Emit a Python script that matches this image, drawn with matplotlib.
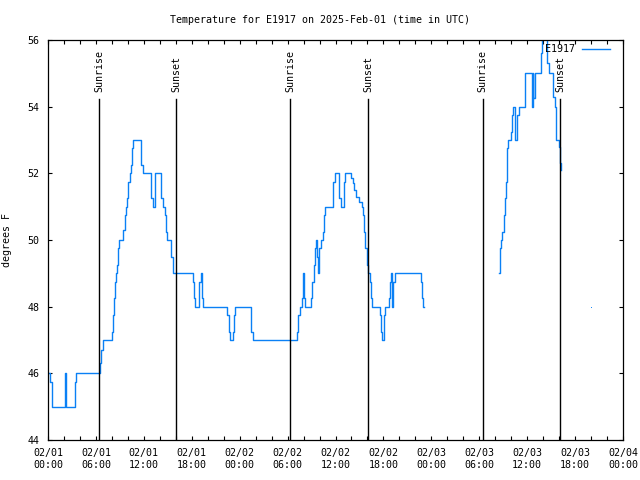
import matplotlib
matplotlib.use("Agg")
import matplotlib.pyplot as plt

# hours since 2025-02-01 00:00 UTC, temperature (F) holds until next change
seg1_t = [0.0, 0.25, 0.5, 2.09, 2.3, 3.34, 3.55, 6.51, 6.68, 6.84, 7.97, 8.14, 8.26, 8.35, 8.55,
          8.68, 8.8, 8.93, 9.43, 9.6, 9.72, 9.93, 10.06, 10.23, 10.43, 10.56, 10.68, 11.69, 11.94,
          12.94, 13.19, 13.44, 14.19, 14.44, 14.65, 14.82, 14.94, 15.44, 15.69,
          18.2, 18.32, 18.45, 18.95, 19.16, 19.24, 19.37, 22.45, 22.62, 22.75, 23.2, 23.33, 23.45,
          25.46, 25.71, 31.22, 31.35, 31.55, 31.76, 31.89, 32.06, 32.18, 32.93, 33.1, 33.26, 33.43,
          33.52, 33.68, 33.81, 33.98, 34.19, 34.39, 34.52, 34.69, 35.73, 35.94, 36.48, 36.65, 37.03,
          37.19, 37.94, 38.15, 38.35, 38.6, 38.9, 39.28, 39.49, 39.6, 39.73, 39.9, 40.07, 40.32,
          40.44, 40.53, 41.57, 41.7, 41.82, 42.03, 42.2, 42.74, 42.87, 42.95, 43.03, 43.2, 43.45,
          46.71, 46.83, 47.0, 47.12]
seg1_v = [46, 45.75, 45, 46, 45, 45.75, 46, 46.3, 46.7, 47, 47.25, 47.75, 48.25, 48.75, 49,
          49.25, 49.75, 50, 50.3, 50.75, 51, 51.25, 51.75, 52, 52.25, 52.75, 53, 52.25, 52,
          51.25, 51, 52, 51.25, 51, 50.75, 50.25, 50, 49.5, 49,
          48.75, 48.25, 48, 48.75, 49, 48.25, 48, 47.75, 47.25, 47, 47.25, 47.75, 48,
          47.25, 47, 47.25, 47.75, 48, 48.25, 49, 48.25, 48, 48.25, 48.75, 49.25, 49.75,
          50, 49.5, 49, 49.75, 50, 50.25, 50.75, 51, 51.75, 52, 51.25, 51, 51.75,
          52, 51.85, 51.7, 51.5, 51.3, 51.15, 51, 50.75, 50.25, 49.75, 49.25, 49, 48.75,
          48.25, 48, 47.75, 47.25, 47, 47.75, 48, 48.25, 48.75, 49, 48, 48.75, 49,
          48.75, 48.25, 48, 48]

seg2_t = [56.47, 56.6, 56.72, 56.89, 57.06, 57.18, 57.31, 57.43, 57.51, 57.64, 57.98, 58.1, 58.23,
          58.52, 58.69, 59.02, 59.73, 60.57, 60.69, 60.77, 60.94, 61.73, 61.9, 62.52, 62.77, 63.27,
          63.48, 63.65, 64.02, 64.15, 64.25]
seg2_v = [49, 49.75, 50, 50.25, 50.75, 51.25, 51.75, 52.25, 52.75, 53, 53.25, 53.75, 54,
          53, 53.75, 54, 55, 54, 55, 54.25, 55, 55.6, 56.5, 55.3, 55, 54.3,
          54, 53, 52.8, 52.3, 52.1]

lone_t = [68.0]
lone_v = [48]

sunrise = [6.42, 30.34, 54.43]
sunset = [16.07, 40.1, 64.15]

tick_hours = list(range(0, 73, 6))
tick_labels = ["02/01\n00:00", "02/01\n06:00", "02/01\n12:00", "02/01\n18:00",
               "02/02\n00:00", "02/02\n06:00", "02/02\n12:00", "02/02\n18:00",
               "02/03\n00:00", "02/03\n06:00", "02/03\n12:00", "02/03\n18:00",
               "02/04\n00:00"]

blue = "#0a80f5"
plt.rcParams["font.family"] = "DejaVu Sans Mono"
plt.rcParams["font.size"] = 7.2

fig = plt.figure(figsize=(6.4, 4.8), dpi=100)
ax = fig.add_axes([48 / 640, 40 / 480, 575 / 640, 400 / 480])

ax.plot(seg1_t, seg1_v, drawstyle="steps-post", color=blue, lw=1.0)
ax.plot(seg2_t, seg2_v, drawstyle="steps-post", color=blue, lw=1.0)
ax.plot(lone_t, lone_v, "s", color=blue, markersize=0.6, markeredgewidth=0)

for h in sunrise:
    ax.plot([h, h], [0, 0.8525], color="black", lw=1.0, transform=ax.get_xaxis_transform())
    ax.text(h, 0.87, "Sunrise", rotation=90, ha="center", va="bottom",
            transform=ax.get_xaxis_transform())
for h in sunset:
    ax.plot([h, h], [0, 0.8525], color="black", lw=1.0, transform=ax.get_xaxis_transform())
    ax.text(h, 0.87, "Sunset", rotation=90, ha="center", va="bottom",
            transform=ax.get_xaxis_transform())

ax.set_xlim(0, 72)
ax.set_ylim(44, 56)
ax.set_xticks(tick_hours)
ax.set_xticklabels(tick_labels)
ax.set_xticks(range(0, 73, 2), minor=True)
ax.set_yticks(range(44, 57, 2))
ax.tick_params(which="both", direction="in", top=True, right=True, length=3.2, width=0.8)
ax.tick_params(axis="x", pad=6)
ax.tick_params(axis="y", pad=6)
for s in ax.spines.values():
    s.set_linewidth(0.9)

ax.set_ylabel("degrees F", labelpad=11)
fig.text(0.5, 1 - 20 / 480, "Temperature for E1917 on 2025-Feb-01 (time in UTC)",
         ha="center", va="center")

# key
ax.text(0.9165, 0.9775, "E1917", ha="right", va="center", transform=ax.transAxes)
ax.plot([0.9287, 0.9774], [0.9775, 0.9775], color=blue, lw=1.0, transform=ax.transAxes)

fig.savefig("out.png", dpi=100)
